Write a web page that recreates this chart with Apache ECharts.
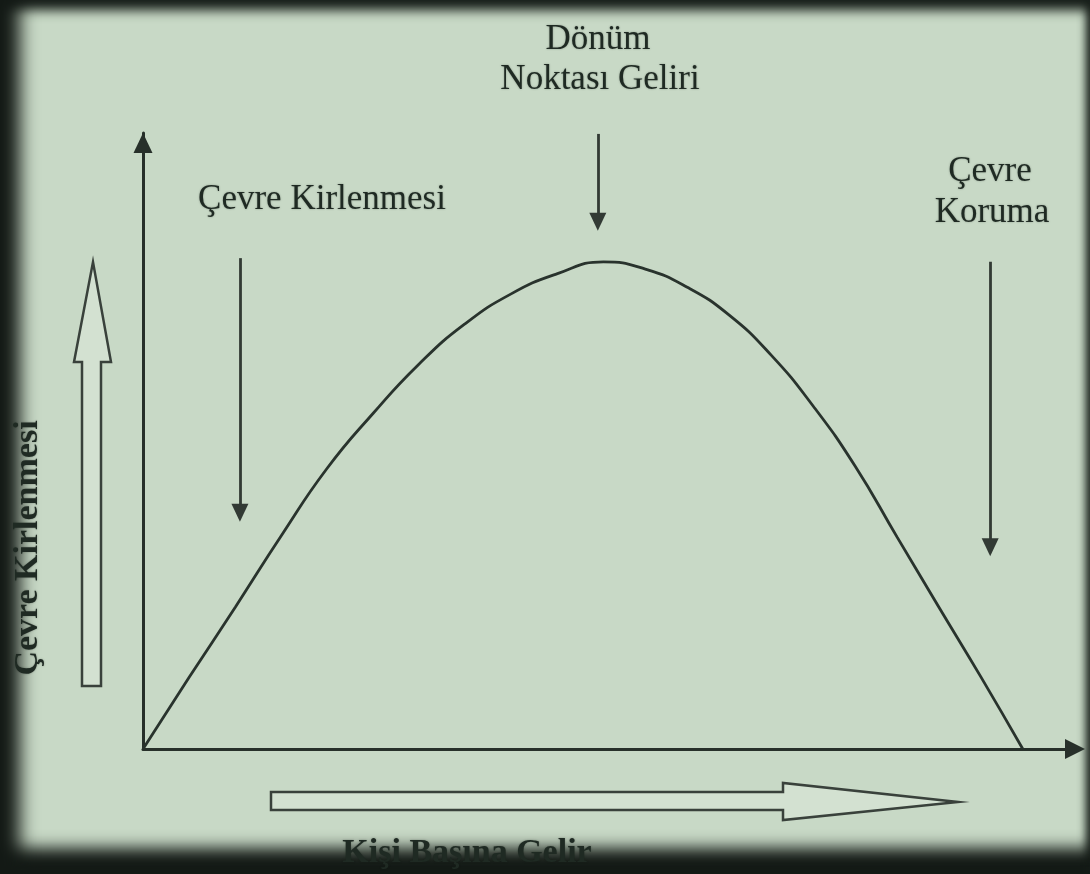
<!DOCTYPE html>
<html>
<head>
<meta charset="utf-8">
<script src="https://cdn.jsdelivr.net/npm/echarts@6/dist/echarts.min.js"></script>
<style>
html,body{margin:0;padding:0;background:#1b231d;}
#wrap{position:relative;width:1090px;height:874px;background:#c8d9c6;
  box-shadow:inset 26px 0 18px -6px #141a16, inset 0 14px 12px -4px #1a211c, inset 0 -34px 16px -8px #141a16, inset -6px 0 8px -2px #2a332c;}
#chart{position:absolute;left:0;top:0;width:1090px;height:874px;}
</style>
</head>
<body>
<div id="wrap"><div id="chart"></div></div>
<script>
// gelir (x) ve kirlilik (y)
var gelir = [0, 4.9, 9.9, 14.8, 19.7, 24.7, 29.6, 34.5, 39.5, 44.4, 49.4, 53.9, 58.4, 62.9, 67.4, 71.9, 76.4, 80.9, 85.4, 89.9, 94.4];
var kirlilik = [0, 11.7, 23.4, 35.1, 46.2, 55.4, 63.5, 70.1, 75.1, 78.4, 80.4, 79.2, 76.2, 71.6, 65.0, 56.6, 46.7, 35.0, 23.4, 11.9, 0];
// aciklama oklari [x, yBas, ySon]
var oklar = [[10.4, 81.0, 39.0], [48.8, 101.5, 87.0], [90.9, 80.4, 33.3]];

var curveData = [];
for (var i = 0; i < gelir.length; i++) { curveData.push([gelir[i], kirlilik[i]]); }

var okData = [];
for (var j = 0; j < oklar.length; j++) {
    okData.push([{coord: [oklar[j][0], oklar[j][1]]}, {coord: [oklar[j][0], oklar[j][2]]}]);
}

var ink = '#1f2a23', serif = 'Liberation Serif, Times New Roman, serif';
function txt(t, x, y, size, weight, extra){
    var o = {type: 'text', x: x, y: y, style: {text: t, fill: ink, font: weight + ' ' + size + 'px ' + serif,
        align: 'center', verticalAlign: 'middle', textShadowColor: 'rgba(20,30,20,0.35)', textShadowBlur: 2}};
    if (extra) { for (var k in extra) { o[k] = extra[k]; } }
    return o;
}

var chart = echarts.init(document.getElementById('chart'));
var lineSt = {color: '#27302a', width: 3};
chart.setOption({
    backgroundColor: 'transparent',
    animation: false,
    grid: {left: 143, top: 133, width: 932, height: 616},
    xAxis: {type: 'value', min: 0, max: 100,
        axisLine: {show: true, symbol: ['none', 'triangle'], symbolSize: [20, 20], lineStyle: lineSt},
        axisTick: {show: false}, axisLabel: {show: false}, splitLine: {show: false}},
    yAxis: {type: 'value', min: 0, max: 101.65,
        axisLine: {show: true, symbol: ['none', 'triangle'], symbolSize: [19, 20], symbolOffset: [0, -10], lineStyle: lineSt},
        axisTick: {show: false}, axisLabel: {show: false}, splitLine: {show: false}},
    series: [{
        type: 'line',
        data: curveData,
        smooth: 0.5,
        clip: false,
        symbol: 'none',
        lineStyle: {color: '#29332d', width: 2.8},
        markLine: {
            silent: true,
            symbol: ['none', 'triangle'],
            symbolSize: [17, 18],
            label: {show: false},
            lineStyle: {color: '#323a34', width: 2.8, type: 'solid'},
            data: okData
        }
    }],
    graphic: [
        {type: 'polygon', shape: {points: [[82,686],[101,686],[101,362],[111,362],[93,262],[74,362],[82,362]]},
            style: {fill: 'rgba(222,234,220,0.5)', stroke: '#39413b', lineWidth: 2.5}},
        {type: 'polygon', shape: {points: [[271,792],[783,792],[783,783],[958,802],[783,820],[783,810],[271,810]]},
            style: {fill: 'rgba(222,234,220,0.5)', stroke: '#39413b', lineWidth: 2.5}},
        txt('Dönüm', 598, 40, 35, 'normal'),
        txt('Noktası Geliri', 600, 80, 35, 'normal'),
        txt('Çevre Kirlenmesi', 322, 200, 35, 'normal'),
        txt('Çevre', 990, 172, 35, 'normal'),
        txt('Koruma', 992, 213, 35, 'normal'),
        txt('Kişi Başına Gelir', 467, 853, 34, 'bold'),
        txt('Çevre Kirlenmesi', 28, 548, 34, 'bold', {rotation: Math.PI / 2})
    ]
});
</script>
</body>
</html>
